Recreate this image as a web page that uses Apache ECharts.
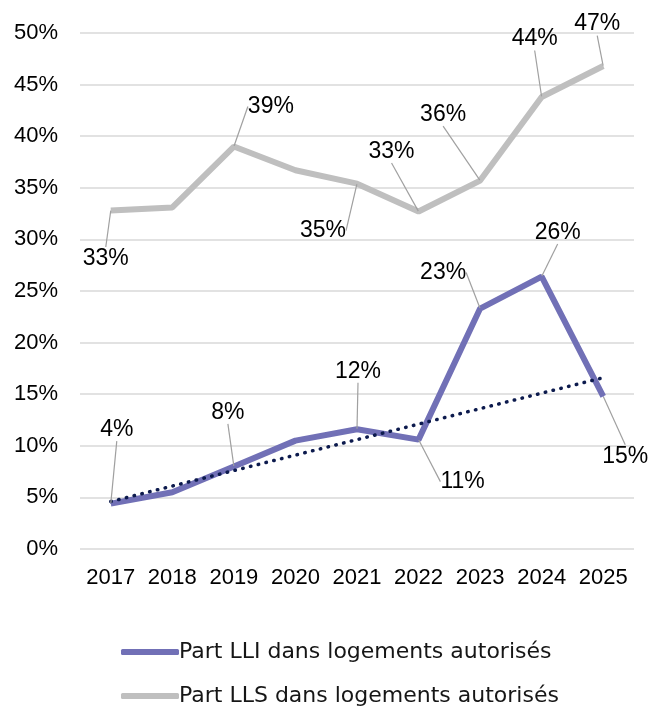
<!DOCTYPE html>
<html>
<head>
    <meta charset="utf-8">
    <script src="https://cdn.jsdelivr.net/npm/echarts@6/dist/echarts.min.js"></script>
    <style>
        html, body { margin: 0; padding: 0; background: #fff; }
        #main { width: 649px; height: 706px; }
    </style>
</head>
<body>
<div id="main"></div>
<script type="text/javascript">
    // données (en %)
    var years = ['2017', '2018', '2019', '2020', '2021', '2022', '2023', '2024', '2025'];
    var partLLI = [4.4, 5.5, 8.0, 10.5, 11.6, 10.6, 23.3, 26.4, 14.8];
    var partLLS = [32.8, 33.1, 39.0, 36.7, 35.4, 32.7, 35.7, 43.8, 46.8];
    var tendanceLLI = [4.6, null, null, null, null, null, null, null, 16.6];
    var yTicks = [0, 50, 5]; // min, max, pas

    // décalage des étiquettes [dx, dy] par rapport au point, null = pas d'étiquette
    var lblLLS = [[-5, 48], null, [37, -40], null, [-34, 47], [-27, -60], [-37, -66], [-7, -58], [-6, -42]];
    var lblLLI = [[6, -74], null, [-6, -54], null, [1, -58], [44, 42], [-37, -36], [16, -44], [22, 60]];

    var font = 'Liberation Sans, Arial, sans-serif';

    function buildData(values, offsets) {
        return values.map(function (v, i) {
            return offsets[i] ? v : { value: v, label: { show: false } };
        });
    }
    function layoutFrom(offsets) {
        return function (p) {
            var o = offsets[p.dataIndex];
            if (!o) return {};
            return { dx: o[0], dy: o[1] };
        };
    }
    var labelCfg = {
        show: true,
        position: 'inside',
        color: '#000',
        fontFamily: font,
        fontSize: 23,
        formatter: function (p) { return Math.round(p.value) + '%'; }
    };
    var guide = { show: true, length2: 0, minTurnAngle: 90, lineStyle: { color: '#a0a0a0', width: 1.2 } };

    var myChart = echarts.init(document.getElementById('main'));
    var option = {
        animation: false,
        grid: { left: 80, right: 15, top: 33, bottom: 157 },
        legend: {
            data: ['Part LLI dans logements autorisés', 'Part LLS dans logements autorisés'],
            orient: 'vertical',
            left: 116,
            top: 636,
            height: 120,
            itemWidth: 58,
            itemHeight: 6,
            itemGap: 22,
            icon: 'roundRect',
            textStyle: { fontFamily: 'DejaVu Sans', fontSize: 22, color: '#161616', padding: [0, 0, 0, -5] }
        },
        xAxis: {
            type: 'category',
            data: years,
            boundaryGap: true,
            axisLine: { show: false },
            axisTick: { show: false },
            axisLabel: { color: '#000', fontFamily: font, fontSize: 22, margin: 18, interval: 0 }
        },
        yAxis: {
            type: 'value',
            min: yTicks[0],
            max: yTicks[1],
            interval: yTicks[2],
            axisLabel: { color: '#000', fontFamily: font, fontSize: 22, margin: 22, formatter: '{value}%' },
            splitLine: { lineStyle: { color: '#d9d9d9', width: 1.5 } }
        },
        series: [
            {
                name: 'Part LLS dans logements autorisés',
                type: 'line',
                data: buildData(partLLS, lblLLS),
                symbol: 'circle',
                symbolSize: 1,
                itemStyle: { color: '#bfbfbf' },
                lineStyle: { color: '#bfbfbf', width: 6 },
                label: labelCfg,
                labelLayout: layoutFrom(lblLLS),
                labelLine: guide
            },
            {
                name: 'Part LLI dans logements autorisés',
                type: 'line',
                data: buildData(partLLI, lblLLI),
                symbol: 'circle',
                symbolSize: 1,
                itemStyle: { color: '#7170b6' },
                lineStyle: { color: '#7170b6', width: 6 },
                label: labelCfg,
                labelLayout: layoutFrom(lblLLI),
                labelLine: guide
            },
            {
                name: 'Tendance LLI',
                type: 'line',
                data: tendanceLLI,
                connectNulls: true,
                symbol: 'none',
                silent: true,
                lineStyle: { color: '#0c1a4d', width: 3.5, type: [0.5, 7.5], cap: 'round' }
            }
        ]
    };
    myChart.setOption(option);
</script>
</body>
</html>
